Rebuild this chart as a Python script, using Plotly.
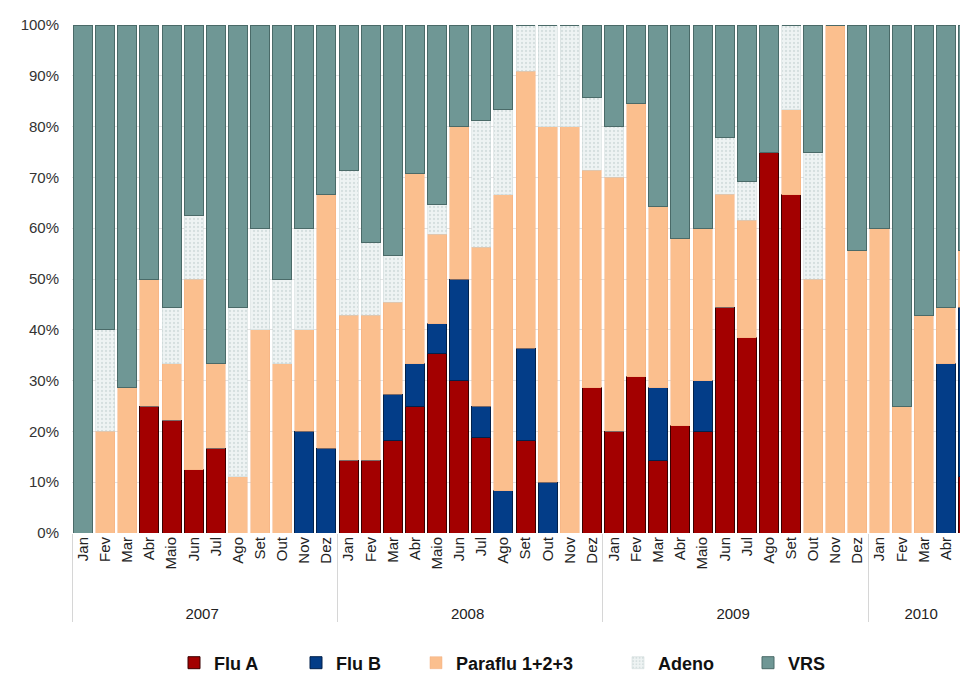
import plotly.graph_objects as go

months = ["Jan", "Fev", "Mar", "Abr", "Maio", "Jun", "Jul", "Ago", "Set", "Out", "Nov", "Dez"]
year_names = ["2007", "2008", "2009", "2010"]
months_per_year = [12, 12, 12, 5]
years = [f"<br>{y}" for y, n in zip(year_names, months_per_year) for _ in range(n)]
month_labels = months * 3 + months[:5]

flu_a = [0, 0, 0, 25, 22.2, 12.5, 16.7, 0, 0, 0, 0, 0,
         14.3, 14.3, 18.2, 25, 35.3, 30, 18.75, 0, 18.2, 0, 0, 28.6,
         20, 30.8, 14.3, 21.1, 20, 44.4, 38.5, 75, 66.7, 0, 0, 0,
         0, 0, 0, 0, 11.1]
flu_b = [0, 0, 0, 0, 0, 0, 0, 0, 0, 0, 20, 16.7,
         0, 0, 9.1, 8.3, 5.9, 20, 6.25, 8.3, 18.2, 10, 0, 0,
         0, 0, 14.3, 0, 10, 0, 0, 0, 0, 0, 0, 0,
         0, 0, 0, 33.3, 33.3]
paraflu = [0, 20, 28.6, 25, 11.1, 37.5, 16.7, 11.1, 40, 33.3, 20, 50,
           28.6, 28.6, 18.2, 37.5, 17.6, 30, 31.25, 58.3, 54.5, 70, 80, 42.9,
           50, 53.8, 35.7, 36.8, 30, 22.2, 23.1, 0, 16.7, 50, 100, 55.6,
           60, 25, 42.9, 11.1, 11.1]
adeno = [0, 20, 0, 0, 11.1, 12.5, 0, 33.3, 20, 16.7, 20, 0,
         28.6, 14.3, 9.1, 0, 5.9, 0, 25, 16.7, 9.1, 20, 20, 14.3,
         10, 0, 0, 0, 0, 11.1, 7.7, 0, 16.7, 25, 0, 0,
         0, 0, 0, 0, 0]
vrs = [100, 60, 71.4, 50, 55.6, 37.5, 66.7, 55.6, 40, 50, 40, 33.3,
       28.6, 42.9, 45.5, 29.2, 35.3, 20, 18.75, 16.7, 0, 0, 0, 14.3,
       20, 15.4, 35.7, 42.1, 40, 22.2, 30.8, 25, 0, 25, 0, 44.4,
       40, 75, 57.1, 55.6, 44.4]

y_ticks = [0, 10, 20, 30, 40, 50, 60, 70, 80, 90, 100]
y_tick_labels = [f"{v}%" for v in y_ticks]

x = [years, month_labels]

legend_font = dict(size=18, color="#111111", weight="bold",
                   family="Liberation Sans, Arial, sans-serif")
legend_x = {"legend": 166, "legend2": 288, "legend3": 408, "legend4": 610, "legend5": 740}

fig = go.Figure()
fig.add_trace(go.Bar(x=x, y=flu_a, name="Flu A", legend="legend",
                     marker=dict(color="#a30000", line=dict(color="#3a0000", width=1))))
fig.add_trace(go.Bar(x=x, y=flu_b, name="Flu B", legend="legend2",
                     marker=dict(color="#033d88", line=dict(color="#02214a", width=1))))
fig.add_trace(go.Bar(x=x, y=paraflu, name="Paraflu 1+2+3", legend="legend3",
                     marker=dict(color="#fbbf8e", line=dict(color="#f3b080", width=0.5))))
fig.add_trace(go.Bar(x=x, y=adeno, name="Adeno", legend="legend4",
                     marker=dict(color="#eef3f3", line=dict(color="#c9d6d6", width=0.5),
                                 pattern=dict(shape=".", fgcolor="#b9c9c9", bgcolor="#eef3f3",
                                              size=4, solidity=0.25))))
fig.add_trace(go.Bar(x=x, y=vrs, name="VRS", legend="legend5",
                     marker=dict(color="#6f9795", line=dict(color="#4a6a68", width=1))))

legends = {}
for key, px in legend_x.items():
    legends[key] = dict(orientation="h", xref="container", x=px / 968, xanchor="left",
                        yref="container", y=1 - 655 / 679, yanchor="middle",
                        font=legend_font, bgcolor="rgba(0,0,0,0)", itemwidth=30)

fig.update_layout(
    width=968, height=679, showlegend=True,
    barmode="stack", barnorm="percent", bargap=0.14,
    plot_bgcolor="white", paper_bgcolor="white",
    margin=dict(l=64, r=8, t=15, b=154),
    font=dict(family="Liberation Sans, Arial, sans-serif", color="#333333"),
    xaxis=dict(tickangle=-90, tickfont=dict(size=15, color="#222222"),
               range=[-0.5, 40.0], showdividers=True, dividercolor="#d6d6d6",
               dividerwidth=1, showgrid=False, showline=False, ticks=""),
    yaxis=dict(range=[0, 100], tickmode="array", tickvals=y_ticks, ticktext=y_tick_labels,
               tickfont=dict(size=15, color="#333333"),
               showgrid=True, gridcolor="#e2e2e2", gridwidth=1, zeroline=False,
               ticklabelstandoff=12),
    **legends,
)

fig.write_html("out.html")
